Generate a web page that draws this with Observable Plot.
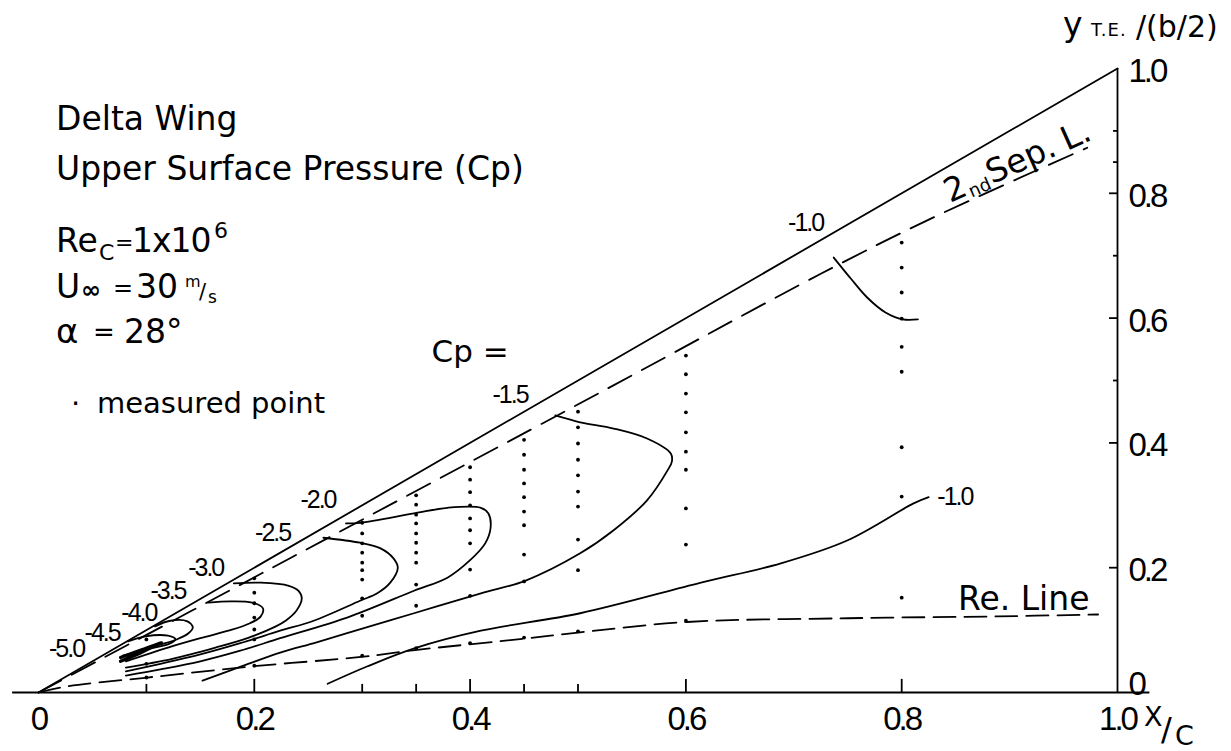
<!DOCTYPE html>
<html>
<head>
<meta charset="utf-8">
<script src="https://cdn.jsdelivr.net/npm/d3@7"></script>
<script src="https://cdn.jsdelivr.net/npm/@observablehq/plot@0.6"></script>
<style>
  html, body { margin: 0; padding: 0; background: #fff; }
  #chart svg { display: block; }
</style>
</head>
<body>
<div id="chart"></div>
<script>
// ================= DATA =================
// measurement stations (x/c) and measured-point spanwise positions y/(b/2)
const stations = [0.1, 0.2, 0.3, 0.35, 0.4, 0.45, 0.5, 0.6, 0.8];
const measuredY = [
  [0.085, 0.046, 0.024],
  [0.183, 0.160, 0.143, 0.120, 0.101, 0.085, 0.043],
  [0.272, 0.255, 0.239, 0.224, 0.208, 0.196, 0.181, 0.151, 0.123, 0.059],
  [0.316, 0.301, 0.285, 0.271, 0.255, 0.240, 0.224, 0.208, 0.173, 0.139, 0.071],
  [0.361, 0.341, 0.321, 0.300, 0.279, 0.260, 0.239, 0.197, 0.155, 0.079],
  [0.405, 0.381, 0.357, 0.335, 0.313, 0.290, 0.268, 0.221, 0.178, 0.088],
  [0.450, 0.425, 0.399, 0.373, 0.348, 0.322, 0.298, 0.245, 0.196, 0.098],
  [0.540, 0.510, 0.479, 0.449, 0.417, 0.386, 0.357, 0.295, 0.237, 0.115],
  [0.721, 0.681, 0.641, 0.599, 0.554, 0.514, 0.393, 0.314, 0.152]
];

// reference lines
const leadingEdge = [[0, 0], [1, 1]];
const secondarySeparationLine = [[0, 0], [0.234, 0.216], [0.524, 0.484], [0.725, 0.671], [0.829, 0.761], [0.972, 0.873]];
const reattachmentLine = [[0, 0], [0.027, 0.010], [0.101, 0.024], [0.199, 0.042], [0.299, 0.057], [0.349, 0.068],
  [0.449, 0.086], [0.5, 0.096], [0.601, 0.113], [0.75, 0.119], [0.889, 0.122], [0.982, 0.125]];

// Cp isobars
const cp10Upper = [[0.737, 0.697], [0.753, 0.663], [0.768, 0.633], [0.785, 0.609], [0.801, 0.598], [0.815, 0.598]];
const cp10Lower = [[0.268, 0.014], [0.305, 0.042], [0.349, 0.071], [0.410, 0.099], [0.502, 0.127], [0.614, 0.176],
  [0.688, 0.207], [0.750, 0.244], [0.811, 0.303], [0.825, 0.313]];
const cp15 = [[0.479, 0.444], [0.502, 0.433], [0.533, 0.423], [0.564, 0.407], [0.586, 0.383], [0.587, 0.370],
  [0.583, 0.356], [0.564, 0.308], [0.533, 0.260], [0.502, 0.223], [0.451, 0.179], [0.410, 0.159], [0.348, 0.127],
  [0.286, 0.095], [0.257, 0.080], [0.224, 0.064], [0.190, 0.043], [0.152, 0.019]];
const cp20 = [[0.285, 0.271], [0.298, 0.272], [0.348, 0.287], [0.379, 0.296], [0.410, 0.296], [0.417, 0.287],
  [0.419, 0.264], [0.414, 0.239], [0.400, 0.212], [0.379, 0.184], [0.348, 0.163], [0.286, 0.120], [0.224, 0.087],
  [0.187, 0.067], [0.150, 0.050], [0.113, 0.037], [0.081, 0.027]];
const cp25 = [[0.264, 0.248], [0.298, 0.240], [0.317, 0.231], [0.329, 0.215], [0.333, 0.200], [0.326, 0.176],
  [0.314, 0.159], [0.298, 0.147], [0.255, 0.115], [0.224, 0.099], [0.187, 0.079], [0.150, 0.061], [0.113, 0.046],
  [0.081, 0.034]];
const cp30 = [[0.181, 0.175], [0.206, 0.176], [0.232, 0.171], [0.241, 0.163], [0.244, 0.151], [0.239, 0.131],
  [0.229, 0.115], [0.220, 0.106], [0.195, 0.088], [0.164, 0.072], [0.124, 0.054], [0.081, 0.040]];
const cp35 = [[0.157, 0.144], [0.178, 0.146], [0.198, 0.144], [0.208, 0.135], [0.206, 0.122], [0.196, 0.111],
  [0.176, 0.099], [0.150, 0.087], [0.120, 0.072], [0.081, 0.050]];
const cp40 = [[0.108, 0.106], [0.122, 0.115], [0.138, 0.114], [0.143, 0.104], [0.139, 0.095], [0.128, 0.085],
  [0.106, 0.073], [0.082, 0.056]];
const cp45 = [[0.083, 0.082], [0.099, 0.090], [0.120, 0.091], [0.127, 0.085], [0.121, 0.078], [0.102, 0.070],
  [0.078, 0.059]];
const cp50 = [[0.076, 0.056], [0.095, 0.068], [0.114, 0.080], [0.110, 0.077], [0.094, 0.063], [0.076, 0.050]];

// contour labels
const cpLabelText = ["-1.0", "-1.5", "-2.0", "-2.5", "-3.0", "-3.5", "-4.0", "-4.5", "-5.0"];
const cpLabelX    = [0.711, 0.437, 0.259, 0.217, 0.155, 0.120, 0.093, 0.059, 0.026];
const cpLabelY    = [0.752, 0.476, 0.308, 0.256, 0.200, 0.162, 0.127, 0.096, 0.069];
const cpLowerLabel = {text: "-1.0", x: 0.833, y: 0.314};
const cpEqualsLabel = {text: "Cp =", x: 0.400, y: 0.545};

// axes
const xTickValues = [0, 0.2, 0.4, 0.6, 0.8, 1.0];
const xTickLabels = ["0", "0.2", "0.4", "0.6", "0.8", "1.0"];
const xMajorTicks = [0.2, 0.4, 0.6, 0.8];
const xMinorTicks = [0.1, 0.3, 0.35, 0.45, 0.5];
const yTickValues = [0.2, 0.4, 0.6, 0.8, 1.0];
const yTickLabels = ["0.2", "0.4", "0.6", "0.8", "1.0"];
const yZeroLabel = "0";
const yMajorTicks = [0.2, 0.4, 0.6, 0.8];
const yMinorTicks = [0.5, 0.7, 0.85, 0.9];

// texts
const titleLines = ["Delta Wing", "Upper Surface Pressure (Cp)"];
const legendText = "measured point";

// ================= BUILD =================
const contours = [cp10Upper, cp10Lower, cp15, cp20, cp25, cp30, cp35, cp40, cp45];
const contourRows = contours.flatMap((c, i) => c.map(p => ({x: p[0], y: p[1], id: i})));
const points = stations.flatMap((s, i) => measuredY[i].map(v => ({x: s, y: v})));
const cpLabels = cpLabelText.map((t, i) => ({text: t, x: cpLabelX[i], y: cpLabelY[i]}));
const px = d => d[0], py = d => d[1];
const K = "black", SW = 1.8;
const NUM_FONT = "'Liberation Sans', Arial, sans-serif";

const chart = Plot.plot({
  width: 1231,
  height: 751,
  marginLeft: 38,
  marginRight: 114,
  marginTop: 68,
  marginBottom: 59,
  x: {domain: [0, 1], axis: null},
  y: {domain: [0, 1], axis: null},
  style: {background: "white", fontFamily: "'DejaVu Sans', sans-serif", color: "black", overflow: "visible"},
  marks: [
    // axes lines
    Plot.ruleY([0], {x1: () => -0.024, x2: () => 1.03, stroke: K, strokeWidth: SW}),
    Plot.ruleX([1], {y1: () => 0, y2: () => 1, stroke: K, strokeWidth: SW}),
    Plot.ruleX(xMajorTicks, {y1: () => 0, y2: () => 0.021, stroke: K, strokeWidth: SW}),
    Plot.ruleX(xMinorTicks, {y1: () => 0, y2: () => 0.013, stroke: K, strokeWidth: SW}),
    Plot.ruleY(yMajorTicks, {x1: () => 0.9926, x2: () => 1, stroke: K, strokeWidth: SW}),
    Plot.ruleY(yMinorTicks, {x1: () => 0.9963, x2: () => 1, stroke: K, strokeWidth: SW}),
    // wing leading edge, separation & reattachment lines
    Plot.line(leadingEdge, {x: px, y: py, stroke: K, strokeWidth: SW}),
    Plot.line(secondarySeparationLine, {x: px, y: py, stroke: K, strokeWidth: SW, strokeDasharray: "26,12", curve: "catmull-rom"}),
    Plot.line(reattachmentLine, {x: px, y: py, stroke: K, strokeWidth: SW, strokeDasharray: "22,9", curve: "catmull-rom"}),
    // isobars
    Plot.line(contourRows, {x: "x", y: "y", z: "id", stroke: K, strokeWidth: SW, curve: "catmull-rom"}),
    Plot.line(cp50, {x: px, y: py, stroke: K, strokeWidth: 3.2, curve: "catmull-rom"}),
    // measured points
    Plot.dot(points, {x: "x", y: "y", r: 1.9, fill: K, stroke: null}),
    // tick labels
    Plot.text(xTickValues, {x: d => d, y: () => 0, text: (d, i) => xTickLabels[i], dy: 27, fontSize: 33, fontFamily: NUM_FONT, fill: K}),
    Plot.text(yTickValues, {x: () => 1, y: d => d, text: (d, i) => yTickLabels[i], dx: 11, dy: 3, textAnchor: "start", fontSize: 33, fontFamily: NUM_FONT, fill: K}),
    Plot.text([0], {x: () => 1, y: d => d, text: () => yZeroLabel, dx: 11, dy: -8, textAnchor: "start", fontSize: 33, fontFamily: NUM_FONT, fill: K}),
    // contour labels
    Plot.text(cpLabels, {x: "x", y: "y", text: "text", fontSize: 25, fontFamily: NUM_FONT, fill: K}),
    Plot.text([cpLowerLabel], {x: "x", y: "y", text: "text", textAnchor: "start", fontSize: 25, fontFamily: NUM_FONT, fill: K}),
    Plot.text([cpEqualsLabel], {x: "x", y: "y", text: "text", fontSize: 31, fill: K})
  ]
});
document.getElementById("chart").append(chart);

const svg = d3.select(chart);
svg.selectAll("g").filter(function () {
  const f = this.getAttribute("font-family");
  return f && f.indexOf("Liberation") >= 0;
}).each(function () {
  const fs = +this.getAttribute("font-size");
  d3.select(this).attr("letter-spacing", fs >= 30 ? -3 : -2);
});

// free annotations
const T = svg.append("g")
  .attr("font-family", "'DejaVu Sans', sans-serif")
  .attr("text-anchor", "start")
  .attr("fill", K);
function put(g, x, y, str, size, extra) {
  const e = g.append("text").attr("x", x).attr("y", y).attr("font-size", size).attr("text-anchor", "start").text(str);
  if (extra) for (const k in extra) e.attr(k, extra[k]);
  return e;
}
put(T, 56, 130, titleLines[0], 33);
put(T, 56, 180, titleLines[1], 33);
// Re_C = 1 x 10^6
put(T, 56, 252, "Re", 33);
put(T, 99, 260, "C", 22);
put(T, 115, 250, "=", 22);
put(T, 132, 252, "1x10", 33, {"letter-spacing": -1});
put(T, 214, 238, "6", 22);
// U_inf = 30 m/s
put(T, 56, 298, "U", 33);
put(T, 81, 298, "∞", 24, {"font-weight": "bold"});
put(T, 113, 296, "=", 24);
put(T, 136, 298, "30", 33);
put(T, 185, 287, "m", 16);
put(T, 199, 299, "/", 21);
put(T, 208, 303, "s", 17);
// alpha
put(T, 56, 343, "α", 34);
put(T, 93, 341, "=", 26);
put(T, 124, 343, "28°", 33);
// legend
put(T, 71, 413, "·", 29);
put(T, 97, 413, legendText, 29);
// Re. Line
put(T, 958, 610, "Re. Line", 33);
// 2nd Sep. L.
const S = T.append("g").attr("transform", "translate(950,203) rotate(-24)");
put(S, 0, 0, "2", 33);
put(S, 22, 4, "nd", 18);
put(S, 46, 0, "Sep.", 33);
put(S, 128, 0, "L.", 33);
// y-axis title
put(T, 1063, 36, "y", 33);
put(T, 1091, 36, "T.E.", 18, {"letter-spacing": 1});
put(T, 1136, 37, "/(b/2)", 30);
// x-axis title
put(T, 1144, 726, "X", 27);
put(T, 1161, 740, "/", 32);
put(T, 1175, 745, "C", 27);
</script>
</body>
</html>
